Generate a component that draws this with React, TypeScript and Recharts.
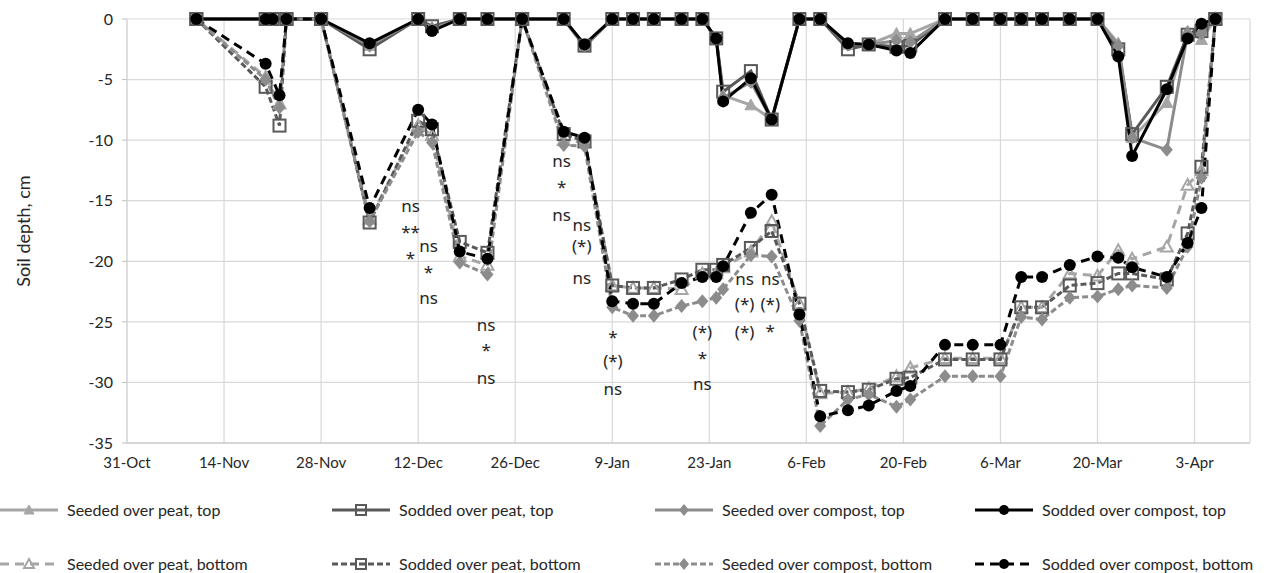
import { CartesianGrid, Line, LineChart, ReferenceDot, XAxis, YAxis } from "recharts";

// days after 31-Oct
const days = [10, 20, 21, 22, 23, 28, 35, 42, 44, 48, 52, 57, 63, 66, 70, 73, 76, 80, 83, 85, 86, 90, 93, 97, 100, 104, 107, 111, 113, 118, 122, 126, 129, 132, 136, 140, 143, 145, 150, 153, 155, 157];

const tickDays = [0, 14, 28, 42, 56, 70, 84, 98, 112, 126, 140, 154];
const tickLabels = ["31-Oct", "14-Nov", "28-Nov", "12-Dec", "26-Dec", "9-Jan", "23-Jan", "6-Feb", "20-Feb", "6-Mar", "20-Mar", "3-Apr"];
const depthTicks = [0, -5, -10, -15, -20, -25, -30, -35];

const seededPeatTop = [0, 0, 0, null, 0, 0, -2.2, 0, -0.7, 0, 0, 0, 0, -2.3, 0, 0, 0, 0, 0, -1.6, -6.3, -7.1, -8.3, 0, 0, -2.1, -2.1, -1.2, -1.2, 0, 0, 0, 0, 0, 0, 0, -2.0, -9.8, -6.9, -1.0, -1.7, 0];
const soddedPeatTop = [0, 0, 0, null, 0, 0, -2.5, 0, -0.6, 0, 0, 0, 0, -2.2, 0, 0, 0, 0, 0, -1.6, -6.0, -4.3, -8.3, 0, 0, -2.5, -2.1, -2.3, -2.2, 0, 0, 0, 0, 0, 0, 0, -2.5, -9.5, -5.6, -1.3, -1.0, 0];
const seededCompostTop = [0, 0, 0, null, 0, 0, -2.2, 0, -0.8, 0, 0, 0, 0, -2.2, 0, 0, 0, 0, 0, -1.6, -6.5, -5.2, -8.3, 0, 0, -2.1, -2.1, -1.8, -1.9, 0, 0, 0, 0, 0, 0, 0, -2.2, -9.8, -10.8, -1.2, -1.2, 0];
const soddedCompostTop = [0, 0, 0, null, 0, 0, -2.0, 0, -1.0, 0, 0, 0, 0, -2.1, 0, 0, 0, 0, 0, -1.6, -6.8, -4.9, -8.3, 0, 0, -2.0, -2.1, -2.6, -2.8, 0, 0, 0, 0, 0, 0, 0, -3.1, -11.3, -5.8, -1.6, -0.4, 0];

const seededPeatBottom = [0, -4.8, null, -7.0, 0, 0, -16.5, -8.8, -9.6, -19.6, -20.3, 0, -10.0, -10.2, -22.0, -22.2, -22.2, -22.3, -21.0, -21.0, -20.5, -19.2, -16.7, -23.5, -30.9, -30.8, -30.5, -29.5, -28.8, -28.0, -28.0, -28.0, -23.8, -23.8, -21.0, -21.2, -19.1, -19.8, -18.8, -13.7, -12.5, 0];
const soddedPeatBottom = [0, -5.6, null, -8.8, 0, 0, -16.8, -8.4, -9.1, -18.4, -19.3, 0, -9.5, -10.1, -22.0, -22.2, -22.2, -21.5, -20.7, -20.7, -20.3, -18.9, -17.5, -23.5, -30.7, -30.8, -30.6, -29.7, -29.6, -28.1, -28.1, -28.1, -23.8, -23.8, -22.0, -21.8, -21.0, -21.0, -21.5, -17.7, -12.2, 0];
const seededCompostBottom = [0, -5.0, null, -7.3, 0, 0, -16.7, -9.3, -10.2, -20.1, -21.1, 0, -10.4, -10.5, -23.8, -24.5, -24.5, -23.7, -23.3, -23.0, -22.3, -19.5, -19.6, -24.9, -33.6, -31.4, -31.0, -32.0, -31.4, -29.5, -29.5, -29.5, -24.6, -24.8, -23.0, -22.9, -22.3, -22.0, -22.2, -18.8, -13.1, 0];
const soddedCompostBottom = [0, -3.7, null, -6.3, 0, 0, -15.6, -7.5, -8.7, -19.2, -19.8, 0, -9.3, -9.8, -23.3, -23.5, -23.5, -21.8, -21.3, -21.3, -20.4, -16.0, -14.5, -24.4, -32.8, -32.3, -31.9, -30.7, -30.3, -26.9, -26.9, -26.9, -21.3, -21.3, -20.3, -19.6, -19.7, -20.5, -21.3, -18.5, -15.6, 0];

// significance notes: day, depth, text
const notes = [
  { day: 40.9, depth: -15.4, text: "ns" },
  { day: 40.9, depth: -17.1, text: "**" },
  { day: 40.9, depth: -19.3, text: "*" },
  { day: 43.5, depth: -18.7, text: "ns" },
  { day: 43.5, depth: -20.4, text: "*" },
  { day: 43.5, depth: -23.0, text: "ns" },
  { day: 51.8, depth: -25.2, text: "ns" },
  { day: 51.8, depth: -26.9, text: "*" },
  { day: 51.8, depth: -29.6, text: "ns" },
  { day: 62.7, depth: -11.7, text: "ns" },
  { day: 62.7, depth: -13.4, text: "*" },
  { day: 62.7, depth: -16.1, text: "ns" },
  { day: 65.6, depth: -17.0, text: "ns" },
  { day: 65.6, depth: -18.7, text: "(*)" },
  { day: 65.6, depth: -21.3, text: "ns" },
  { day: 70.1, depth: -25.8, text: "*" },
  { day: 70.1, depth: -28.2, text: "(*)" },
  { day: 70.1, depth: -30.5, text: "ns" },
  { day: 83, depth: -25.8, text: "(*)" },
  { day: 83, depth: -27.5, text: "*" },
  { day: 83, depth: -30.1, text: "ns" },
  { day: 89.1, depth: -21.4, text: "ns" },
  { day: 89.1, depth: -23.5, text: "(*)" },
  { day: 89.1, depth: -25.8, text: "(*)" },
  { day: 92.8, depth: -21.4, text: "ns" },
  { day: 92.8, depth: -23.5, text: "(*)" },
  { day: 92.8, depth: -25.3, text: "*" },
];

type Shape = "triangle" | "square" | "diamond" | "circle";
interface Series {
  key: string;
  name: string;
  values: (number | null)[];
  color: string;
  shape: Shape;
  open: boolean;
  dash?: string;
}

const series: Series[] = [
  { key: "spt", name: "Seeded over peat, top", values: seededPeatTop, color: "#a6a6a6", shape: "triangle", open: false },
  { key: "sopt", name: "Sodded over peat, top", values: soddedPeatTop, color: "#595959", shape: "square", open: true },
  { key: "sct", name: "Seeded over compost, top", values: seededCompostTop, color: "#8c8c8c", shape: "diamond", open: false },
  { key: "soct", name: "Sodded over compost, top", values: soddedCompostTop, color: "#000000", shape: "circle", open: false },
  { key: "spb", name: "Seeded over peat, bottom", values: seededPeatBottom, color: "#a6a6a6", shape: "triangle", open: true, dash: "9 6" },
  { key: "sopb", name: "Sodded over peat, bottom", values: soddedPeatBottom, color: "#595959", shape: "square", open: true, dash: "6 3" },
  { key: "scb", name: "Seeded over compost, bottom", values: seededCompostBottom, color: "#8c8c8c", shape: "diamond", open: false, dash: "6 3" },
  { key: "socb", name: "Sodded over compost, bottom", values: soddedCompostBottom, color: "#000000", shape: "circle", open: false, dash: "9 6" },
];

const rows = days.map((day, i) => {
  const row: Record<string, number | null> = { day };
  series.forEach((s) => (row[s.key] = s.values[i]));
  return row;
});

const FONT = 'Lato, "Open Sans", sans-serif';
const NOTE_FONT = '"Noto Sans", "Open Sans", sans-serif';

function Marker({ cx, cy, s, size = 6 }: { cx: number; cy: number; s: Series; size?: number }) {
  const fill = s.open ? "none" : s.color;
  if (s.shape === "circle") return <circle cx={cx} cy={cy} r={size} fill={s.color} />;
  if (s.shape === "square")
    return <rect x={cx - size} y={cy - size} width={size * 2} height={size * 2} fill="none" stroke={s.color} strokeWidth={2} />;
  if (s.shape === "diamond")
    return <polygon points={`${cx},${cy - size - 1} ${cx + size},${cy} ${cx},${cy + size + 1} ${cx - size},${cy}`} fill={s.color} />;
  return (
    <polygon
      points={`${cx},${cy - size} ${cx + size},${cy + size * 0.8} ${cx - size},${cy + size * 0.8}`}
      fill={fill}
      stroke={s.color}
      strokeWidth={s.open ? 2 : 1}
    />
  );
}

const dotFor = (s: Series) => (p: any) => {
  const k = `${s.key}-${p.index}`;
  if (p.cx == null || p.cy == null || p.value == null) return <g key={k} />;
  return (
    <g key={k}>
      <Marker cx={p.cx} cy={p.cy} s={s} />
    </g>
  );
};

function LegendItem({ s }: { s: Series }) {
  return (
    <div style={{ display: "flex", alignItems: "center" }}>
      <svg width={58} height={16} style={{ marginRight: 9 }}>
        <line x1={0} y1={8} x2={58} y2={8} stroke={s.color} strokeWidth={3} strokeDasharray={s.dash} />
        <Marker cx={29} cy={8} s={s} size={5} />
      </svg>
      <span style={{ fontFamily: FONT, fontSize: 16, color: "#262626", whiteSpace: "nowrap" }}>{s.name}</span>
    </div>
  );
}

const legendCols = [0, 332, 655, 975];

export default function App() {
  return (
    <div style={{ position: "absolute", left: 0, top: 0, width: 1284, height: 573, background: "#fff" }}>
      <LineChart width={1284} height={573} data={rows} margin={{ top: 19, right: 34, bottom: 100, left: 0 }}>
        <CartesianGrid stroke="#d9d9d9" strokeWidth={1.2} />
        <XAxis
          dataKey="day"
          type="number"
          domain={[0, 162]}
          ticks={tickDays}
          tickFormatter={(v: number) => tickLabels[tickDays.indexOf(v)] ?? ""}
          height={30}
          tickLine={false}
          tickSize={0}
          tickMargin={14}
          axisLine={{ stroke: "#bfbfbf", strokeWidth: 1.2 }}
          tick={{ fontFamily: FONT, fontSize: 15, fill: "#262626" }}
          allowDataOverflow
        />
        <YAxis
          type="number"
          domain={[-35, 0]}
          ticks={depthTicks}
          width={127}
          tickSize={5}
          tickMargin={9}
          tickLine={{ stroke: "#bfbfbf" }}
          axisLine={{ stroke: "#d9d9d9", strokeWidth: 1.2 }}
          tick={{ fontFamily: FONT, fontSize: 16, fill: "#262626" }}
          label={{
            content: (props: any) => {
              const vb = props.viewBox || { y: 19, height: 424 };
              const cy = vb.y + vb.height / 2;
              return (
                <text x={23} y={cy} transform={`rotate(-90, 23, ${cy})`} textAnchor="middle" dominantBaseline="central" fontFamily={FONT} fontSize={18} fill="#262626">
                  Soil depth, cm
                </text>
              );
            },
          }}
        />
        {series.map((s) => (
          <Line
            key={s.key}
            dataKey={s.key}
            name={s.name}
            stroke={s.color}
            strokeWidth={3}
            strokeDasharray={s.dash}
            connectNulls
            dot={dotFor(s)}
            activeDot={false}
            isAnimationActive={false}
          />
        ))}
        {notes.map((n, i) => (
          <ReferenceDot
            key={`n${i}`}
            x={n.day}
            y={n.depth}
            r={0}
            shape={(p: any) => (
              <text
                x={p.cx}
                y={p.cy}
                dy={n.text === "*" || n.text === "**" ? 5 : 0}
                textAnchor="middle"
                dominantBaseline="central"
                fontFamily={NOTE_FONT}
                fontSize={17}
                fill="#262626"
              >
                {n.text}
              </text>
            )}
          />
        ))}
      </LineChart>
      {[0, 1].map((r) => (
        <div key={r}>
          {series.slice(r * 4, r * 4 + 4).map((s, c) => (
            <div key={s.key} style={{ position: "absolute", left: legendCols[c], top: r === 0 ? 500 : 554 }}>
              <LegendItem s={s} />
            </div>
          ))}
        </div>
      ))}
    </div>
  );
}
